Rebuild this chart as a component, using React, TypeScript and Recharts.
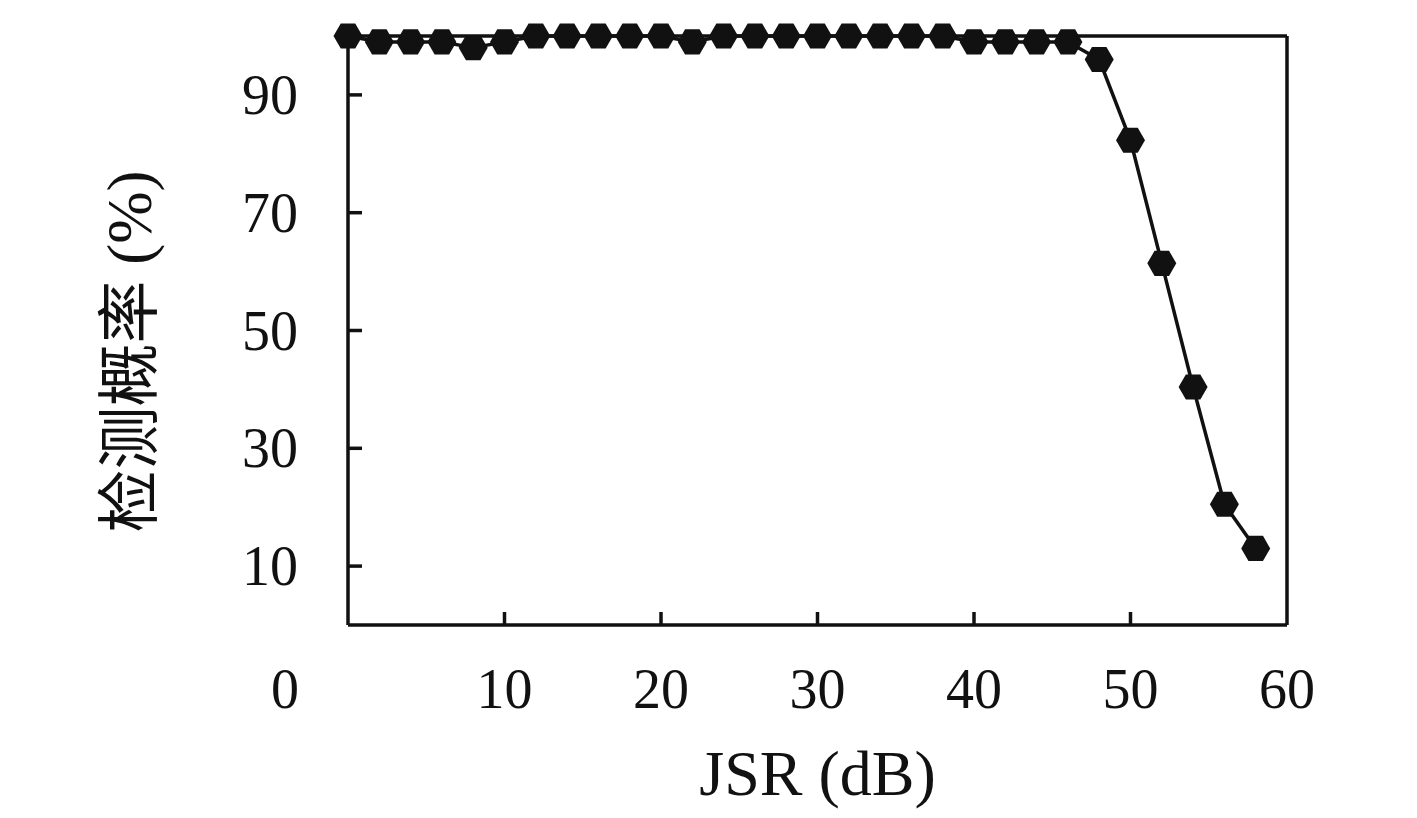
import React from "react";
import { LineChart, Line, XAxis, YAxis, ReferenceLine } from "recharts";

const jsrValues = [0, 2, 4, 6, 8, 10, 12, 14, 16, 18, 20, 22, 24, 26, 28, 30, 32, 34, 36, 38, 40, 42, 44, 46, 48, 50, 52, 54, 56, 58];
const detectionProb = [100, 99, 99, 99, 98, 99, 100, 100, 100, 100, 100, 99, 100, 100, 100, 100, 100, 100, 100, 100, 99, 99, 99, 99, 96, 82.3, 61.4, 40.4, 20.5, 13];
const xTicks = [0, 10, 20, 30, 40, 50, 60];
const yTicks = [10, 30, 50, 70, 90];
const xDomain = [0, 60];
const yDomain = [0, 100];
const xLabel = "JSR (dB)";
const yLabel = "检测概率 (%)";

const data = jsrValues.map((x, i) => ({ jsr: x, p: detectionProb[i] }));

const INK = "#111";
const FONT = "'Liberation Serif', 'DejaVu Serif', serif";
const CJK = "'Liberation Serif', 'Noto Sans CJK SC', serif";
const SW = 3.5;

const Hexagon = (props: any) => {
  const { cx, cy, index } = props;
  if (cx == null || cy == null) return null;
  const r = 14.5;
  const h = (r * Math.sqrt(3)) / 2;
  const pts = [
    [cx + r, cy],
    [cx + r / 2, cy + h],
    [cx - r / 2, cy + h],
    [cx - r, cy],
    [cx - r / 2, cy - h],
    [cx + r / 2, cy - h],
  ]
    .map((p) => p.join(","))
    .join(" ");
  return <polygon key={`hex-${index}`} points={pts} fill={INK} stroke="none" />;
};

const XTick = (props: any) => {
  const { x, y, payload } = props;
  const v = payload.value;
  const showLine = v !== 0 && v !== 60;
  const tx = v === 0 ? x - 63 : x;
  return (
    <g>
      {showLine && <line x1={x} y1={y} x2={x} y2={y - 13} stroke={INK} strokeWidth={SW} />}
      <text x={tx} y={y + 83} textAnchor="middle" fontFamily={FONT} fontSize={56} fill={INK}>
        {v}
      </text>
    </g>
  );
};

const YTick = (props: any) => {
  const { x, y, payload } = props;
  return (
    <g>
      <line x1={x} y1={y} x2={x + 14} y2={y} stroke={INK} strokeWidth={SW} />
      <text x={x - 50} y={y + 19} textAnchor="end" fontFamily={FONT} fontSize={56} fill={INK}>
        {payload.value}
      </text>
    </g>
  );
};

const XLabel = (props: any) => {
  const vb = props.viewBox || {};
  return (
    <text x={vb.x + vb.width / 2} y={vb.y + 170} textAnchor="middle" fontFamily={FONT} fontSize={64} fill={INK}>
      {xLabel}
    </text>
  );
};

const YLabel = (props: any) => {
  const vb = props.viewBox || {};
  const cx = 130;
  const cy = vb.y + vb.height / 2 + 21;
  return (
    <text
      x={cx}
      y={cy}
      textAnchor="middle"
      dominantBaseline="central"
      transform={`rotate(-90, ${cx}, ${cy})`}
      fontFamily={CJK}
      fontSize={63}
      fill={INK}
    >
      {yLabel}
    </text>
  );
};

export default function App() {
  return (
    <div style={{ position: "absolute", left: 0, top: 0, background: "#fff" }}>
      <LineChart width={1417} height={818} data={data} margin={{ top: 36, right: 130, bottom: 0, left: 0 }}>
        <XAxis
          dataKey="jsr"
          type="number"
          domain={xDomain}
          ticks={xTicks}
          height={193}
          tickSize={0}
          tickMargin={0}
          tick={<XTick />}
          tickLine={false}
          axisLine={{ stroke: INK, strokeWidth: SW }}
          label={<XLabel />}
          interval={0}
        />
        <YAxis
          type="number"
          domain={yDomain}
          ticks={yTicks}
          width={348}
          tickSize={0}
          tickMargin={0}
          tick={<YTick />}
          tickLine={false}
          axisLine={{ stroke: INK, strokeWidth: SW }}
          label={<YLabel />}
          interval={0}
        />
        <ReferenceLine y={yDomain[1]} stroke={INK} strokeWidth={SW} />
        <ReferenceLine x={xDomain[1]} stroke={INK} strokeWidth={SW} />
        <Line
          dataKey="p"
          stroke={INK}
          strokeWidth={SW}
          dot={<Hexagon />}
          activeDot={false}
          isAnimationActive={false}
        />
      </LineChart>
    </div>
  );
}
